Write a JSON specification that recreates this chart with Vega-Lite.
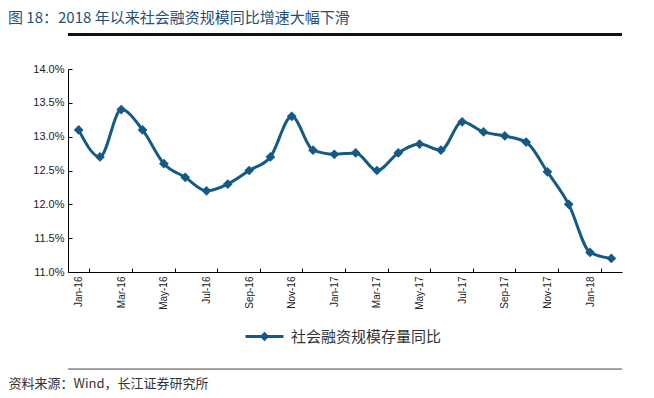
{
  "$schema": "https://vega.github.io/schema/vega-lite/v6.json",
  "autosize": "none",
  "width": 554,
  "height": 203,
  "padding": {"left": 68, "top": 69, "right": 32, "bottom": 126},
  "background": "white",
  "title": {
    "text": "图 18：2018 年以来社会融资规模同比增速大幅下滑",
    "anchor": "start",
    "dx": 0,
    "offset": 7,
    "font": "Noto Sans CJK SC",
    "fontSize": 15,
    "fontWeight": "normal",
    "color": "#1F4F7A"
  },
  "config": {
    "view": {"stroke": null},
    "axis": {
      "labelFont": "Liberation Sans",
      "labelColor": "#222222",
      "domainColor": "#000000",
      "tickColor": "#000000",
      "grid": false
    }
  },
  "data": {
    "values": [
      {"month": "Jan-16", "v": 13.1},
      {"month": "Feb-16", "v": 12.7},
      {"month": "Mar-16", "v": 13.4},
      {"month": "Apr-16", "v": 13.1},
      {"month": "May-16", "v": 12.6},
      {"month": "Jun-16", "v": 12.4},
      {"month": "Jul-16", "v": 12.2},
      {"month": "Aug-16", "v": 12.3},
      {"month": "Sep-16", "v": 12.5},
      {"month": "Oct-16", "v": 12.7},
      {"month": "Nov-16", "v": 13.3},
      {"month": "Dec-16", "v": 12.8},
      {"month": "Jan-17", "v": 12.74},
      {"month": "Feb-17", "v": 12.76},
      {"month": "Mar-17", "v": 12.5},
      {"month": "Apr-17", "v": 12.76},
      {"month": "May-17", "v": 12.89},
      {"month": "Jun-17", "v": 12.8},
      {"month": "Jul-17", "v": 13.22},
      {"month": "Aug-17", "v": 13.07},
      {"month": "Sep-17", "v": 13.01},
      {"month": "Oct-17", "v": 12.92},
      {"month": "Nov-17", "v": 12.48},
      {"month": "Dec-17", "v": 12.0},
      {"month": "Jan-18", "v": 11.29},
      {"month": "Feb-18", "v": 11.2}
    ]
  },
  "layer": [
    {
      "mark": {
        "type": "line",
        "interpolate": "monotone",
        "strokeWidth": 3,
        "point": {"shape": "diamond", "size": 95, "filled": true, "opacity": 1}
      },
      "encoding": {
        "x": {
          "field": "month",
          "type": "ordinal",
          "sort": null,
          "scale": {"type": "band", "paddingInner": 0, "paddingOuter": 0},
          "axis": {
            "values": ["Jan-16","Mar-16","May-16","Jul-16","Sep-16","Nov-16","Jan-17","Mar-17","May-17","Jul-17","Sep-17","Nov-17","Jan-18"],
            "tickBand": "extent",
            "tickSize": -4,
            "labelAngle": -90,
            "labelFontSize": 10,
            "labelPadding": 8,
            "title": "资料来源：Wind，长江证券研究所",
            "titleFont": "Noto Sans CJK SC",
            "titleFontSize": 13,
            "titleFontWeight": "normal",
            "titleColor": "#333333",
            "titleAnchor": "start",
            "titleAlign": "left",
            "titleBaseline": "middle",
            "titleX": -60,
            "titleY": 111
          }
        },
        "y": {
          "field": "v",
          "type": "quantitative",
          "scale": {"domain": [11, 14], "zero": false},
          "axis": {
            "values": [11, 11.5, 12, 12.5, 13, 13.5, 14],
            "labelExpr": "format(datum.value, '.1f') + '%'",
            "tickSize": -4,
            "labelFontSize": 11,
            "labelPadding": 8,
            "title": null
          }
        },
        "color": {
          "datum": "社会融资规模存量同比",
          "type": "nominal",
          "scale": {"range": ["#145A84"]},
          "legend": {
            "title": null,
            "orient": "none",
            "legendX": 176,
            "legendY": 247,
            "symbolType": "M-1,0H1M0,-0.14L0.14,0L0,0.14L-0.14,0Z",
            "symbolSize": 1444,
            "symbolStrokeWidth": 3,
            "symbolFillColor": "#145A84",
            "symbolStrokeColor": "#145A84",
            "labelFont": "Noto Sans CJK SC",
            "labelFontSize": 15,
            "labelColor": "#333333",
            "labelOffset": 6
          }
        }
      }
    },
    {
      "mark": {"type": "rule", "color": "#111111", "strokeWidth": 2},
      "encoding": {
        "y": {
          "datum": 14.515,
          "type": "quantitative",
          "axis": {
            "values": [11, 11.5, 12, 12.5, 13, 13.5, 14],
            "labelExpr": "format(datum.value, '.1f') + '%'",
            "tickSize": -4,
            "labelFontSize": 11,
            "labelPadding": 8,
            "title": null
          }
        }
      }
    },
    {
      "mark": {"type": "rule", "color": "#999999", "strokeWidth": 1},
      "encoding": {
        "y": {
          "datum": 9.56,
          "type": "quantitative",
          "axis": {
            "values": [11, 11.5, 12, 12.5, 13, 13.5, 14],
            "labelExpr": "format(datum.value, '.1f') + '%'",
            "tickSize": -4,
            "labelFontSize": 11,
            "labelPadding": 8,
            "title": null
          }
        }
      }
    }
  ]
}
